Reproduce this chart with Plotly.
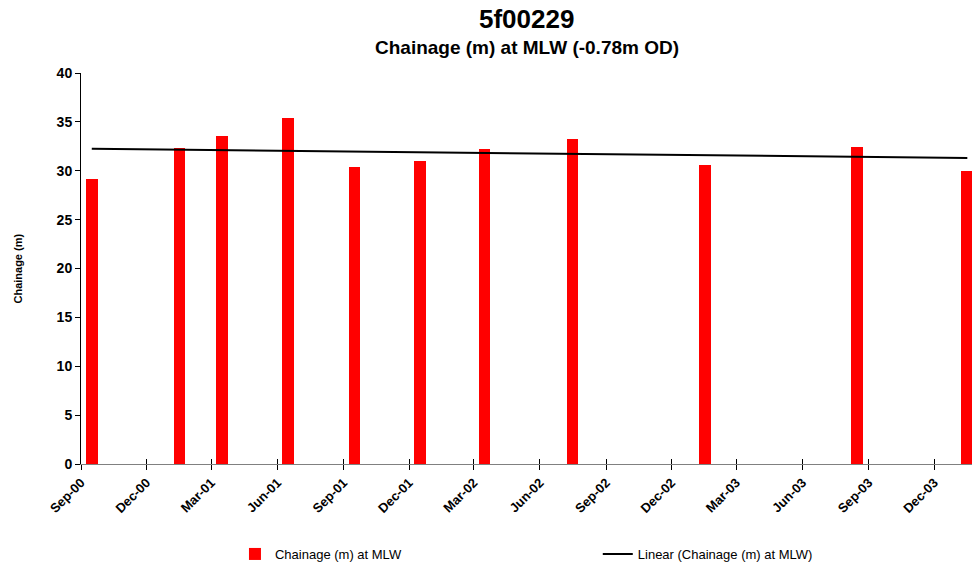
import numpy as np
import pandas as pd
import plotly.graph_objects as go

# Survey dates (mid-month) and chainage at MLW, metres
survey_dates = ["2000-09-16", "2001-01-16", "2001-03-16", "2001-06-16",
                "2001-09-16", "2001-12-16", "2002-03-16", "2002-07-16",
                "2003-01-16", "2003-08-16", "2004-01-16"]
chainage_mlw = [29.2, 32.3, 33.6, 35.4, 30.4, 31.0, 32.2, 33.2, 30.6, 32.4, 30.0]

# Quarterly axis ticks
tick_dates = ["2000-09-01", "2000-12-01", "2001-03-01", "2001-06-01",
              "2001-09-01", "2001-12-01", "2002-03-01", "2002-06-01",
              "2002-09-01", "2002-12-01", "2003-03-01", "2003-06-01",
              "2003-09-01", "2003-12-01"]
tick_labels = ["Sep-00", "Dec-00", "Mar-01", "Jun-01", "Sep-01", "Dec-01",
               "Mar-02", "Jun-02", "Sep-02", "Dec-02", "Mar-03", "Jun-03",
               "Sep-03", "Dec-03"]

x_range = ["2000-09-01", "2004-01-22 12:00"]

FONT = "Arial, Liberation Sans, sans-serif"

# Least-squares linear trend over the survey dates
dates = pd.to_datetime(survey_dates)
days = (dates - dates[0]).days.values.astype(float)
slope, intercept = np.polyfit(days, np.array(chainage_mlw), 1)
trend_x = [dates[0], dates[-1]]
trend_y = [intercept + slope * days[0], intercept + slope * days[-1]]

bar_width_ms = 16.3 * 86400000

fig = go.Figure()
fig.add_trace(go.Bar(
    x=dates, y=chainage_mlw, name="Chainage (m) at MLW",
    marker=dict(color="#FF0000", line=dict(width=0)),
    width=bar_width_ms, legend="legend",
))
fig.add_trace(go.Scatter(
    x=trend_x, y=trend_y, mode="lines",
    name="Linear (Chainage (m) at MLW)",
    line=dict(color="#000000", width=2), legend="legend2",
))
# Invisible trace on a twin axis to give the x ticks a crossing look
fig.add_trace(go.Scatter(
    x=[dates[0]], y=[0], xaxis="x2", mode="markers",
    marker=dict(opacity=0), showlegend=False, hoverinfo="skip",
))

fig.update_layout(
    width=972, height=569,
    margin=dict(l=81, r=0, t=73, b=104),
    paper_bgcolor="white", plot_bgcolor="white",
    font=dict(family=FONT, color="black"),
    bargap=0,
    xaxis=dict(
        type="date", range=x_range,
        tickvals=tick_dates, ticktext=tick_labels, tickangle=-45,
        tickfont=dict(family=FONT, size=13, color="black", weight="bold"),
        ticks="outside", ticklen=5, tickcolor="black", tickwidth=1,
        showline=True, linecolor="#808080", linewidth=1,
        showgrid=False, zeroline=False, automargin=False,
    ),
    xaxis2=dict(
        type="date", range=x_range, overlaying="x", side="bottom",
        tickvals=tick_dates, showticklabels=False,
        ticks="inside", ticklen=5, tickcolor="black", tickwidth=1,
        showline=False, showgrid=False, zeroline=False, automargin=False,
    ),
    yaxis=dict(
        range=[0, 40], dtick=5, tick0=0,
        tickfont=dict(family=FONT, size=14, color="black", weight="bold"),
        ticks="outside", ticklen=5, tickcolor="black", tickwidth=1,
        showline=True, linecolor="black", linewidth=1,
        showgrid=False, zeroline=False, automargin=False,
    ),
    legend=dict(
        orientation="h", x=0.1728, xanchor="left", y=-0.2296, yanchor="middle",
        font=dict(family=FONT, size=13, color="black"),
        bgcolor="rgba(0,0,0,0)", borderwidth=0,
    ),
    legend2=dict(
        orientation="h", x=0.580, xanchor="left", y=-0.2296, yanchor="middle",
        font=dict(family=FONT, size=13, color="black"),
        bgcolor="rgba(0,0,0,0)", borderwidth=0,
    ),
    annotations=[
        dict(text="<b>5f00229</b>", x=0.5, y=1.139, xref="paper", yref="paper",
             xanchor="center", yanchor="middle", showarrow=False,
             font=dict(family=FONT, size=26, color="black")),
        dict(text="<b>Chainage (m) at MLW (-0.78m OD)</b>", x=0.5, y=1.064,
             xref="paper", yref="paper", xanchor="center", yanchor="middle",
             showarrow=False, font=dict(family=FONT, size=19, color="black")),
        dict(text="<b>Chainage (m)</b>", x=-0.0718, y=0.5, xref="paper",
             yref="paper", xanchor="center", yanchor="middle", textangle=-90,
             showarrow=False, font=dict(family=FONT, size=11, color="black")),
    ],
)

fig.write_html("out.html")
